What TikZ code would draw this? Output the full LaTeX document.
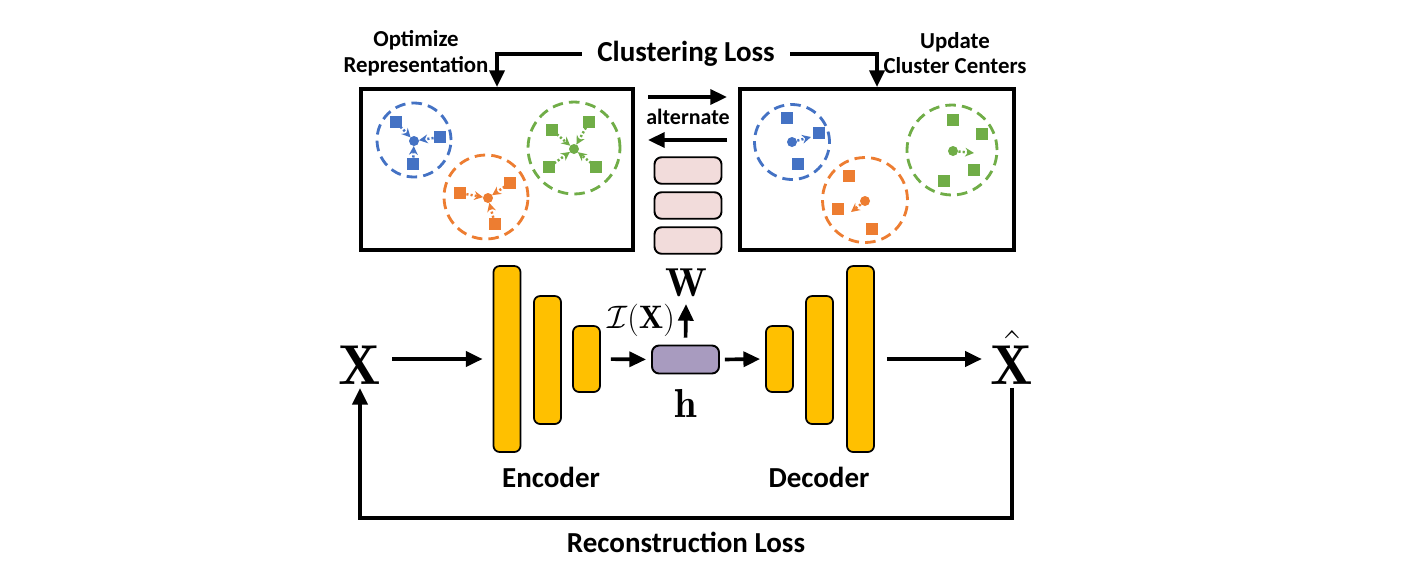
\RequirePackage{fix-cm}
\documentclass[tikz,border=0pt]{standalone}
\usepackage{fontspec}
\newfontfamily\cf{Carlito}
\usetikzlibrary{arrows.meta}
\definecolor{cB}{HTML}{4472C4}
\definecolor{cO}{HTML}{ED7D31}
\definecolor{cG}{HTML}{70AD47}
\definecolor{barY}{HTML}{FFC000}
\definecolor{pinkW}{HTML}{F2DCDB}
\definecolor{purH}{HTML}{A89BBF}
\begin{document}
\begin{tikzpicture}[x=0.02cm,y=-0.02cm,
  arr/.style={line width=2.1pt,-{Triangle[length=9.5pt,width=8.5pt]}},
  frame/.style={draw=black,line width=2.2pt,inner sep=0pt,fill=white},
  bar/.style={draw=black,line width=1pt,fill=barY,rounded corners=3.5pt,inner sep=0pt,minimum width=0.54cm},
  pinkbox/.style={draw=black,line width=1.1pt,fill=pinkW,rounded corners=4pt,inner sep=0pt,minimum width=1.34cm,minimum height=0.53cm},
  hbox/.style={draw=black,line width=1.1pt,fill=purH,rounded corners=4pt,inner sep=0pt,minimum width=1.34cm,minimum height=0.56cm},
  lbl/.style={font=\cf\bfseries\fontsize{16.5}{19}\selectfont},
  small/.style={font=\cf\bfseries\fontsize{13}{14.7}\selectfont,align=center},
  dcirc/.style={line width=1.6pt,dash pattern=on 6pt off 3.5pt},
  dotarr/.style={line width=1.4pt,dash pattern=on 1.2pt off 1.2pt,-{Stealth[length=5pt,width=5pt]}},
  bigm/.style={font=\fontsize{32}{38}\selectfont,inner sep=2pt,anchor=base}
]
\useasboundingbox (0,0) rectangle (1401,566);

% top labels
\node[lbl,inner xsep=0.3cm] (CL) at (686,54) {Clustering Loss};
\node[small] (opt) at (416,53) {Optimize\\Representation};
\node[small] (upd) at (955,53) {Update\\Cluster Centers};

% frames
\node[frame,minimum width=5.44cm,minimum height=3.22cm] (L) at (497,169.5) {};
\node[frame,minimum width=5.48cm,minimum height=3.22cm] (R) at (877,169.5) {};
\draw[arr] (CL.west) -| (L.north);
\draw[arr] (CL.east) -| (R.north);

% alternate arrows
\coordinate (a1) at (648,97); \coordinate (a2) at (727,97);
\coordinate (b1) at (727,140); \coordinate (b2) at (648,140);
\draw[arr] (a1) -- (a2);
\draw[arr] (b1) -- (b2);
\node[font=\cf\bfseries\fontsize{12.5}{15}\selectfont] (alt) at (688,117) {alternate};

% left clusters (optimize representation)
\draw[dcirc,cB] (414,140) circle[radius=0.74cm];
\fill[cB] (414,141) circle[radius=0.1cm];
\foreach \x/\y in {396/122,440/137,413/164}{
  \fill[cB] (\x,\y) ++(-6,-6) rectangle ++(12,12);
  \draw[dotarr,cB,shorten <=0.13cm,shorten >=0.1cm] (\x,\y) -- (414,141);}
\draw[dcirc,cO] (486,197) circle[radius=0.84cm];
\fill[cO] (488,198) circle[radius=0.1cm];
\foreach \x/\y in {460/193,510/183,495/224}{
  \fill[cO] (\x,\y) ++(-6,-6) rectangle ++(12,12);
  \draw[dotarr,cO,shorten <=0.13cm,shorten >=0.1cm] (\x,\y) -- (488,198);}
\draw[dcirc,cG] (574,148) circle[radius=0.92cm];
\fill[cG] (574,149) circle[radius=0.1cm];
\foreach \x/\y in {552/130,589/122,549/167,596/167}{
  \fill[cG] (\x,\y) ++(-6,-6) rectangle ++(12,12);
  \draw[dotarr,cG,shorten <=0.13cm,shorten >=0.1cm] (\x,\y) -- (574,149);}

% right clusters (update centers)
\draw[dcirc,cB] (792,142) circle[radius=0.75cm];
\fill[cB] (792,142) circle[radius=0.1cm];
\foreach \x/\y in {787/118,819/133,798/164}{
  \fill[cB] (\x,\y) ++(-6,-6) rectangle ++(12,12);}
\draw[dotarr,cB,shorten <=0.11cm] (792,142) -- (811,137);
\draw[dcirc,cO] (865,200) circle[radius=0.85cm];
\fill[cO] (865,201) circle[radius=0.1cm];
\foreach \x/\y in {849/176,838/209,872/229}{
  \fill[cO] (\x,\y) ++(-6,-6) rectangle ++(12,12);}
\draw[dotarr,cO,shorten <=0.11cm] (865,201) -- (851,212);
\draw[dcirc,cG] (952,150) circle[radius=0.9cm];
\fill[cG] (953,151) circle[radius=0.1cm];
\foreach \x/\y in {953/120,982/134,974/170,944/181}{
  \fill[cG] (\x,\y) ++(-6,-6) rectangle ++(12,12);}
\draw[dotarr,cG,shorten <=0.11cm] (953,151) -- (974,153);

% W stack
\node[pinkbox] (w1) at (688,170.5) {};
\node[pinkbox] (w2) at (688,205.5) {};
\node[pinkbox] (w3) at (688,240.5) {};
\node[font=\fontsize{23}{27}\selectfont,inner sep=1pt] (W) at (686,283) {$\mathbf{W}$};

% autoencoder
\node[bigm] (X) at (360,384) {$\mathbf{X}$};
\node[bigm] (Xh) at (1012,384) {$\hat{\mathbf{X}}$};
\node[bar,minimum height=3.72cm] (e1) at (507,359) {};
\node[bar,minimum height=2.56cm] (e2) at (547.5,360) {};
\node[bar,minimum height=1.32cm] (e3) at (586.5,359) {};
\node[bar,minimum height=1.32cm] (d1) at (779.5,359) {};
\node[bar,minimum height=2.56cm] (d2) at (819.5,360) {};
\node[bar,minimum height=3.72cm] (d3) at (860.5,359) {};
\node[hbox] (h) at (685.5,359.5) {};
\node[font=\fontsize{23}{27}\selectfont] (hl) at (686,403) {$\mathbf{h}$};
\node[font=\fontsize{18.5}{22}\selectfont] (IX) at (641,320) {$\mathcal{I}(\mathbf{X})$};
\coordinate (wt) at (686,304);
\draw[arr,shorten <=0.14cm] (h.north) -- (wt);

\draw[arr,shorten <=0.14cm,shorten >=0.2cm] (X.east |- e1.west) -- (e1.west);
\draw[arr,shorten <=0.2cm,shorten >=0.1cm] (e3.east) -- (h.west);
\draw[arr,shorten <=0.1cm,shorten >=0.1cm] (h.east) -- (d1.west);
\draw[arr,shorten <=0.24cm,shorten >=0.1cm] (d3.east) -- (d3.east -| Xh.west);

\node[lbl] (enc) at (551,477) {Encoder};
\node[lbl] (dec) at (819,477) {Decoder};
\node[lbl] (rec) at (686,542) {Reconstruction Loss};

\draw[arr,line width=2.3pt] (Xh.south) -- ++(0,130) -| (X.south);
\end{tikzpicture}
\end{document}
